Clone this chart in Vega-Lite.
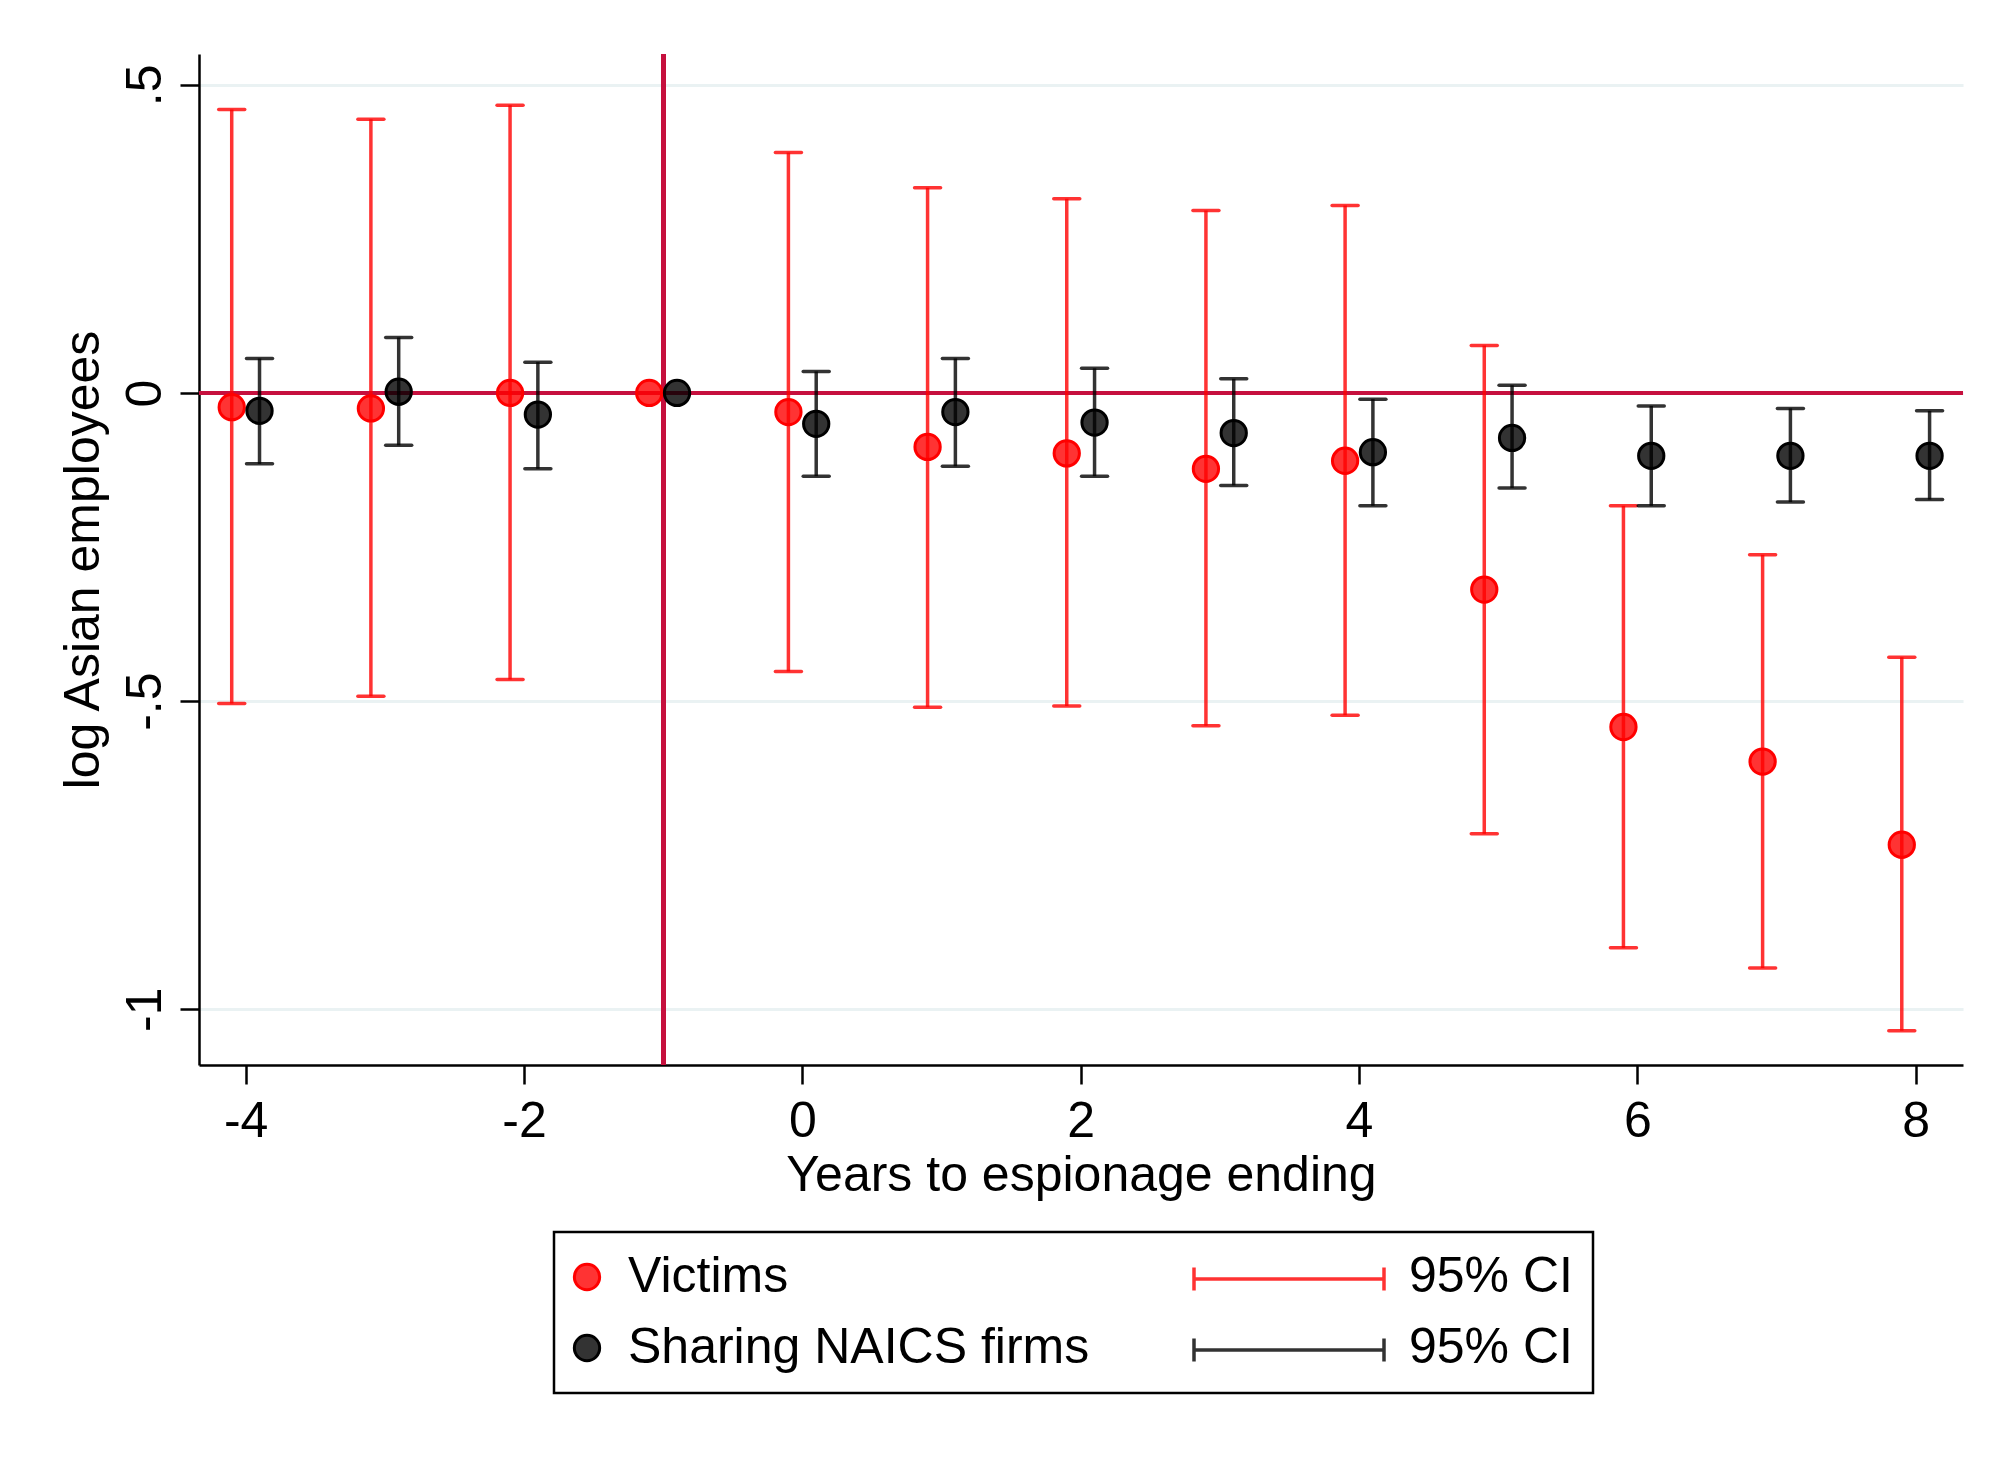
{
  "$schema": "https://vega.github.io/schema/vega-lite/v6.json",
  "width": 1764,
  "height": 1011,
  "autosize": {"type": "none"},
  "padding": {"left": 199, "top": 54, "right": 53, "bottom": 401},
  "background": "white",
  "config": {
    "view": {"stroke": null},
    "font": "Liberation Sans",
    "axis": {
      "labelFont": "Liberation Sans",
      "titleFont": "Liberation Sans",
      "labelFontSize": 50,
      "titleFontSize": 50,
      "titleFontWeight": "normal",
      "labelColor": "black",
      "titleColor": "black",
      "domainColor": "black",
      "domainWidth": 2.5,
      "tickColor": "black",
      "tickWidth": 2.5,
      "tickSize": 19
    },
    "legend": {
      "labelFont": "Liberation Sans",
      "labelFontSize": 50,
      "labelColor": "black",
      "labelLimit": 2000
    }
  },
  "data": {
    "values": [
      {"group": "Victims", "t": -4, "b": -0.023, "lo": -0.504, "hi": 0.460},
      {"group": "Victims", "t": -3, "b": -0.025, "lo": -0.492, "hi": 0.444},
      {"group": "Victims", "t": -2, "b": 0.0, "lo": -0.465, "hi": 0.467},
      {"group": "Victims", "t": -1, "b": 0.0, "lo": null, "hi": null},
      {"group": "Victims", "t": 0, "b": -0.031, "lo": -0.452, "hi": 0.390},
      {"group": "Victims", "t": 1, "b": -0.0875, "lo": -0.510, "hi": 0.333},
      {"group": "Victims", "t": 2, "b": -0.098, "lo": -0.508, "hi": 0.315},
      {"group": "Victims", "t": 3, "b": -0.123, "lo": -0.540, "hi": 0.296},
      {"group": "Victims", "t": 4, "b": -0.110, "lo": -0.523, "hi": 0.304},
      {"group": "Victims", "t": 5, "b": -0.319, "lo": -0.715, "hi": 0.077},
      {"group": "Victims", "t": 6, "b": -0.542, "lo": -0.900, "hi": -0.183},
      {"group": "Victims", "t": 7, "b": -0.598, "lo": -0.933, "hi": -0.2625},
      {"group": "Victims", "t": 8, "b": -0.733, "lo": -1.035, "hi": -0.429},
      {"group": "Sharing NAICS firms", "t": -4, "b": -0.029, "lo": -0.115, "hi": 0.056},
      {"group": "Sharing NAICS firms", "t": -3, "b": 0.002, "lo": -0.085, "hi": 0.090},
      {"group": "Sharing NAICS firms", "t": -2, "b": -0.035, "lo": -0.123, "hi": 0.050},
      {"group": "Sharing NAICS firms", "t": -1, "b": 0.0, "lo": null, "hi": null},
      {"group": "Sharing NAICS firms", "t": 0, "b": -0.050, "lo": -0.135, "hi": 0.035},
      {"group": "Sharing NAICS firms", "t": 1, "b": -0.031, "lo": -0.119, "hi": 0.056},
      {"group": "Sharing NAICS firms", "t": 2, "b": -0.048, "lo": -0.135, "hi": 0.040},
      {"group": "Sharing NAICS firms", "t": 3, "b": -0.065, "lo": -0.150, "hi": 0.023},
      {"group": "Sharing NAICS firms", "t": 4, "b": -0.096, "lo": -0.183, "hi": -0.010},
      {"group": "Sharing NAICS firms", "t": 5, "b": -0.073, "lo": -0.154, "hi": 0.0125},
      {"group": "Sharing NAICS firms", "t": 6, "b": -0.102, "lo": -0.183, "hi": -0.021},
      {"group": "Sharing NAICS firms", "t": 7, "b": -0.102, "lo": -0.177, "hi": -0.025},
      {"group": "Sharing NAICS firms", "t": 8, "b": -0.102, "lo": -0.173, "hi": -0.029}
    ]
  },
  "encoding": {
    "x": {
      "field": "t",
      "type": "quantitative",
      "scale": {"domain": [-4.335, 8.34], "nice": false, "zero": false},
      "axis": {
        "title": "Years to espionage ending",
        "values": [-4, -2, 0, 2, 4, 6, 8],
        "labelExpr": "'' + datum.value",
        "grid": false,
        "labelPadding": 12,
        "titlePadding": 4
      }
    }
  },
  "layer": [
    {
      "mark": {"type": "rule", "color": "#C6103E", "strokeWidth": 4},
      "encoding": {"y": {"datum": 0, "type": "quantitative"}, "x": null}
    },
    {
      "mark": {"type": "rule", "color": "#C6103E", "strokeWidth": 4},
      "encoding": {"x": {"datum": -1, "type": "quantitative"}}
    },
    {
      "transform": [{"filter": "datum.group === 'Victims' && isValid(datum.lo)"}],
      "mark": {"type": "rule", "strokeWidth": 3.5, "strokeOpacity": 0.8, "xOffset": -13.9},
      "encoding": {
        "y": {
          "field": "lo",
          "type": "quantitative",
          "scale": {"domain": [-1.0904, 0.55], "nice": false, "zero": false},
          "axis": {
            "title": "log Asian employees",
            "values": [-1, -0.5, 0, 0.5],
            "labelExpr": "datum.value == 0.5 ? '.5' : datum.value == -0.5 ? '-.5' : '' + datum.value",
            "labelAngle": -90,
            "grid": true,
            "gridColor": "#EAF2F3",
            "gridWidth": 3,
            "labelPadding": 10,
            "titlePadding": 12
          }
        },
        "y2": {"field": "hi"},
        "stroke": {"field": "group", "type": "nominal", "scale": {"domain": ["Victims", "Sharing NAICS firms"], "range": ["#FF0000", "#000000"]},
          "legend": {
            "orient": "none", "legendX": 993, "legendY": 1200, "title": null,
            "labelExpr": "''", "labelOffset": 0, "padding": 0,
            "symbolType": "M-1,0H1M-1,-0.12V0.12M1,-0.12V0.12",
            "symbolSize": 36100, "symbolStrokeWidth": 3.5, "symbolFillColor": "transparent",
            "symbolOpacity": 0.8, "clipHeight": 50, "rowPadding": 21
          }
        }
      }
    },
    {
      "transform": [{"filter": "datum.group === 'Victims' && isValid(datum.lo)"}],
      "mark": {"type": "rule", "strokeWidth": 3.5, "strokeOpacity": 0.8, "strokeCap": "round", "xOffset": -26.9, "x2Offset": -0.9},
      "encoding": {
        "x2": {"field": "t"},
        "y": {"field": "lo", "type": "quantitative"},
        "stroke": {"field": "group", "type": "nominal"}
      }
    },
    {
      "transform": [{"filter": "datum.group === 'Victims' && isValid(datum.lo)"}],
      "mark": {"type": "rule", "strokeWidth": 3.5, "strokeOpacity": 0.8, "strokeCap": "round", "xOffset": -26.9, "x2Offset": -0.9},
      "encoding": {
        "x2": {"field": "t"},
        "y": {"field": "hi", "type": "quantitative"},
        "stroke": {"field": "group", "type": "nominal"}
      }
    },
    {
      "transform": [{"filter": "datum.group === 'Sharing NAICS firms' && isValid(datum.lo)"}],
      "mark": {"type": "rule", "strokeWidth": 3.5, "strokeOpacity": 0.8, "xOffset": 13.9},
      "encoding": {
        "y": {"field": "lo", "type": "quantitative"},
        "y2": {"field": "hi"},
        "stroke": {"field": "group", "type": "nominal"}
      }
    },
    {
      "transform": [{"filter": "datum.group === 'Sharing NAICS firms' && isValid(datum.lo)"}],
      "mark": {"type": "rule", "strokeWidth": 3.5, "strokeOpacity": 0.8, "strokeCap": "round", "xOffset": 0.9, "x2Offset": 26.9},
      "encoding": {
        "x2": {"field": "t"},
        "y": {"field": "lo", "type": "quantitative"},
        "stroke": {"field": "group", "type": "nominal"}
      }
    },
    {
      "transform": [{"filter": "datum.group === 'Sharing NAICS firms' && isValid(datum.lo)"}],
      "mark": {"type": "rule", "strokeWidth": 3.5, "strokeOpacity": 0.8, "strokeCap": "round", "xOffset": 0.9, "x2Offset": 26.9},
      "encoding": {
        "x2": {"field": "t"},
        "y": {"field": "hi", "type": "quantitative"},
        "stroke": {"field": "group", "type": "nominal"}
      }
    },
    {
      "transform": [{"filter": "datum.group === 'Victims'"}],
      "mark": {"type": "point", "filled": true, "fillOpacity": 0.8, "strokeWidth": 3, "size": 640, "xOffset": -13.9},
      "encoding": {
        "y": {"field": "b", "type": "quantitative"},
        "fill": {"field": "group", "type": "nominal",
          "scale": {"domain": ["Victims", "ci_r", "Sharing NAICS firms", "ci_b"], "range": ["#FF0000", "#FFFFFF", "#000000", "#FFFFFF"]},
          "legend": {
            "orient": "none", "legendX": 355, "legendY": 1178, "title": null,
            "direction": "horizontal",
            "columns": 2, "columnPadding": 259, "rowPadding": 21, "padding": 20,
            "labelOffset": 16, "symbolOffset": -12, "symbolType": "circle", "symbolSize": 640, "symbolStrokeWidth": 3,
            "labelExpr": "datum.label == 'ci_r' || datum.label == 'ci_b' ? '95% CI' : datum.label",
            "strokeColor": "black",
            "encode": {
              "legend": {"update": {"strokeWidth": {"value": 2.5}}},
              "symbols": {"update": {
                "stroke": {"signal": "datum.value === 'Victims' ? '#FF0000' : datum.value === 'Sharing NAICS firms' ? '#000000' : 'transparent'"},
                "fillOpacity": {"signal": "datum.value === 'Victims' || datum.value === 'Sharing NAICS firms' ? 0.8 : 0"}
              }}
            }
          }
        },
        "stroke": {"field": "group", "type": "nominal"}
      }
    },
    {
      "transform": [{"filter": "datum.group === 'Sharing NAICS firms'"}],
      "mark": {"type": "point", "filled": true, "fillOpacity": 0.8, "strokeWidth": 3, "size": 640, "xOffset": 13.9},
      "encoding": {
        "y": {"field": "b", "type": "quantitative"},
        "fill": {"field": "group", "type": "nominal"},
        "stroke": {"field": "group", "type": "nominal"}
      }
    }
  ]
}
